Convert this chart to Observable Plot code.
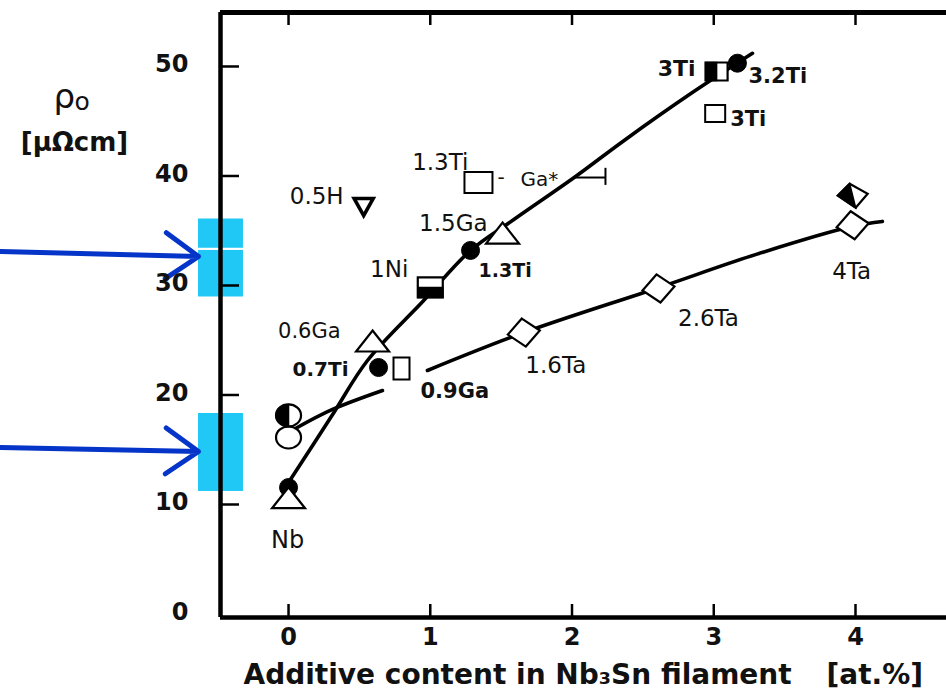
<!DOCTYPE html>
<html><head><meta charset="utf-8">
<script src="https://cdn.jsdelivr.net/npm/d3@7"></script>
<script src="https://cdn.jsdelivr.net/npm/@observablehq/plot@0.6"></script>
<style>
html,body{margin:0;padding:0;background:#fff;}
#chart svg{display:block;}
</style></head><body><div id="chart"></div>
<script>
// ---------------- data ----------------
const xTicks = [0, 1, 2, 3, 4];
const yTicks = [0, 10, 20, 30, 40, 50];

// upper curve (Ti / Ga / Ni additions)
const upperCurve = [
  {x: 0.00, y: 12.0}, {x: 0.31, y: 18.2}, {x: 0.557, y: 23.15}, {x: 0.952, y: 28.6},
  {x: 1.284, y: 33.2}, {x: 1.587, y: 36.0}, {x: 2.025, y: 39.95}, {x: 2.363, y: 43.2},
  {x: 2.836, y: 47.5}, {x: 3.273, y: 51.2}
];
// lower curve (Ta additions), drawn in two pieces
const lowerCurve = [
  {seg: "a", x: 0.049, y: 16.94}, {seg: "a", x: 0.31, y: 18.68}, {seg: "a", x: 0.663, y: 20.41},
  {seg: "b", x: 0.98, y: 22.24}, {seg: "b", x: 1.66, y: 25.7}, {seg: "b", x: 2.61, y: 29.8},
  {seg: "b", x: 3.3, y: 32.84}, {seg: "b", x: 3.98, y: 35.4}, {seg: "b", x: 4.19, y: 35.85}
];

const markerPoints = [
  {id: "NbTi",  x: 0.00,  y: 11.55, marker: "filledCircle"},
  {id: "NbGa",  x: 0.00,  y: 10.3,  marker: "triangle"},
  {id: "NbTa2", x: 0.00,  y: 18.13, marker: "halfCircle"},
  {id: "NbTa",  x: 0.00,  y: 16.12, marker: "openCircle"},
  {id: "0.6Ga", x: 0.593, y: 24.61, marker: "triangle"},
  {id: "0.7Ti", x: 0.635, y: 22.51, marker: "filledCircle"},
  {id: "0.9Ga", x: 0.797, y: 22.42, marker: "squareTall"},
  {id: "1Ni",   x: 1.00,  y: 29.82, marker: "halfSquareBottom"},
  {id: "1.3Ti", x: 1.284, y: 33.2,  marker: "filledCircle"},
  {id: "1.5Ga", x: 1.51,  y: 34.47, marker: "triangle"},
  {id: "1.3TiGa", x: 1.34, y: 39.4, marker: "squareWide"},
  {id: "0.5H",  x: 0.53,  y: 37.42, marker: "invTriangle"},
  {id: "3Ti",   x: 3.02,  y: 49.54, marker: "halfSquareLeft"},
  {id: "3.2Ti", x: 3.167, y: 50.3,  marker: "filledCircle"},
  {id: "3TiB",  x: 3.01,  y: 45.7,  marker: "square"},
  {id: "1.6Ta", x: 1.66,  y: 25.7,  marker: "diamond"},
  {id: "2.6Ta", x: 2.61,  y: 29.73, marker: "diamond"},
  {id: "4Ta",   x: 3.98,  y: 35.5,  marker: "diamond"},
  {id: "4TaB",  x: 3.98,  y: 38.2,  marker: "halfDiamond"}
];

// Ga* range bar
const gaRange = [{x1: 2.025, x2: 2.236, y: 39.86, lo: 39.14, hi: 40.7}];

const pointLabels = [
  {text: "Nb", at: "NbGa"},
  {text: "0.6Ga", at: "0.6Ga"},
  {text: "0.7Ti", at: "0.7Ti"},
  {text: "0.9Ga", at: "0.9Ga"},
  {text: "1Ni", at: "1Ni"},
  {text: "1.3Ti", at: "1.3Ti"},
  {text: "1.5Ga", at: "1.5Ga"},
  {text: "1.3Ti", at: "1.3TiGa"},
  {text: "-", at: "1.3TiGa"},
  {text: "Ga*", at: "1.3TiGa"},
  {text: "0.5H", at: "0.5H"},
  {text: "3Ti", at: "3Ti"},
  {text: "3.2Ti", at: "3.2Ti"},
  {text: "3Ti", at: "3TiB"},
  {text: "1.6Ta", at: "1.6Ta"},
  {text: "2.6Ta", at: "2.6Ta"},
  {text: "4Ta", at: "4Ta"}
];

const xTitle = "Additive content in Nb₃Sn filament";
const xUnit = "[at.%]";
const yTitle = "ρ";
const yTitleSub = "o";
const yUnit = "[μΩcm]";

// overlay call-outs (blue arrows into cyan boxes)
const callouts = [
  {y1: 28.95, y2: 33.2, yFrom: 33.1, yTo: 32.65},
  {y1: 11.19, y2: 18.31, yFrom: 15.2, yTo: 14.84}
];
const calloutBoxTop = [{y1: 33.4, y2: 36.07}];
const calloutX = {from: -2.03, boxLeft: -0.635, boxRight: -0.318};

// ---------------- layout ----------------
const W = 946, H = 699, mL = 220, mR = 0, mT = 12, mB = 82;
const xDomain = [-0.48, 4.642];
const yDomain = [-0.32, 54.93];
const pxX = (W - mL - mR) / (xDomain[1] - xDomain[0]);
const pxY = (H - mT - mB) / (yDomain[1] - yDomain[0]);
const FONT = "DejaVu Sans";
const INK = "#111";

// ---------------- symbols ----------------
const K = 0.5523;
const poly = pts => ({draw(c) { c.moveTo(pts[0][0], pts[0][1]); for (let i = 1; i < pts.length; i++) c.lineTo(pts[i][0], pts[i][1]); c.closePath(); }});
const circ = r => ({draw(c) { c.moveTo(r, 0); c.arc(0, 0, r, 0, 2 * Math.PI); c.closePath(); }});
const ell = (rx, ry) => ({draw(c) {
  c.moveTo(rx, 0);
  c.bezierCurveTo(rx, K * ry, K * rx, ry, 0, ry);
  c.bezierCurveTo(-K * rx, ry, -rx, K * ry, -rx, 0);
  c.bezierCurveTo(-rx, -K * ry, -K * rx, -ry, 0, -ry);
  c.bezierCurveTo(K * rx, -ry, rx, -K * ry, rx, 0);
  c.closePath();
}});
const ellLeft = (rx, ry) => ({draw(c) {
  c.moveTo(0, -ry);
  c.bezierCurveTo(-K * rx, -ry, -rx, -K * ry, -rx, 0);
  c.bezierCurveTo(-rx, K * ry, -K * rx, ry, 0, ry);
  c.closePath();
}});
const rect = (w, h) => poly([[-w / 2, -h / 2], [w / 2, -h / 2], [w / 2, h / 2], [-w / 2, h / 2]]);
const tri = (w, h) => poly([[0, -2 * h / 3], [w / 2, h / 3], [-w / 2, h / 3]]);
const invTri = (w, h) => poly([[0, 2 * h / 3], [w / 2, -h / 3], [-w / 2, -h / 3]]);
const dia = [[-2, -14], [16, -2], [2, 14], [-16, 2]];
const diaB = [[-3, -12], [15, -2], [3, 12], [-15, 0]];

const markerStyle = {
  filledCircle: [{sym: circ(9), fill: "#000", sw: 1}],
  openCircle: [{sym: ell(12.5, 11), fill: "#fff", sw: 2.2}],
  halfCircle: [{sym: ell(12.5, 11), fill: "#fff", sw: 2.2}, {sym: ellLeft(12.5, 11), fill: "#000", sw: 1.5}],
  triangle: [{sym: tri(33, 21), fill: "#fff", sw: 2.2}],
  invTriangle: [{sym: invTri(19, 17), fill: "#fff", sw: 3.6}],
  squareTall: [{sym: rect(16, 22), fill: "#fff", sw: 2}],
  squareWide: [{sym: rect(28, 21), fill: "#fff", sw: 2}],
  square: [{sym: rect(20, 17), fill: "#fff", sw: 2}],
  halfSquareBottom: [{sym: rect(25, 20), fill: "#fff", sw: 2.2}, {sym: poly([[-12.5, 0], [12.5, 0], [12.5, 10], [-12.5, 10]]), fill: "#000", sw: 1.5}],
  halfSquareLeft: [{sym: rect(22, 18), fill: "#fff", sw: 2.2}, {sym: poly([[-11, -9], [0, -9], [0, 9], [-11, 9]]), fill: "#000", sw: 1.5}],
  diamond: [{sym: poly(dia), fill: "#fff", sw: 2.2}],
  halfDiamond: [{sym: poly(diaB), fill: "#fff", sw: 2.2}, {sym: poly([diaB[0], diaB[2], diaB[3]]), fill: "#000", sw: 1.5}]
};

// label placement (pixel offsets from the point they belong to)
const labelLayout = {
  "Nb@NbGa":      {dx: -1,  dy: 39,  anchor: "middle", size: 24, bold: false},
  "0.6Ga@0.6Ga":  {dx: -32, dy: -13, anchor: "end",    size: 21, bold: false},
  "0.7Ti@0.7Ti":  {dx: -30, dy: 2,   anchor: "end",    size: 20, bold: true},
  "0.9Ga@0.9Ga":  {dx: 19,  dy: 23,  anchor: "start",  size: 21, bold: true},
  "1Ni@1Ni":      {dx: -22, dy: -18, anchor: "end",    size: 23, bold: false},
  "1.3Ti@1.3Ti":  {dx: 8,   dy: 20,  anchor: "start",  size: 19, bold: true},
  "1.5Ga@1.5Ga":  {dx: -15, dy: -13, anchor: "end",    size: 23, bold: false},
  "1.3Ti@1.3TiGa":{dx: -10, dy: -20, anchor: "end",    size: 23, bold: false},
  "-@1.3TiGa":    {dx: 19,  dy: -5,  anchor: "start",  size: 20, bold: false},
  "Ga*@1.3TiGa":  {dx: 42,  dy: -3,  anchor: "start",  size: 20, bold: false},
  "0.5H@0.5H":    {dx: -20, dy: -8,  anchor: "end",    size: 23, bold: false},
  "3Ti@3Ti":      {dx: -21, dy: -3,  anchor: "end",    size: 22, bold: true},
  "3.2Ti@3.2Ti":  {dx: 11,  dy: 13,  anchor: "start",  size: 21, bold: true},
  "3Ti@3TiB":     {dx: 15,  dy: 6,   anchor: "start",  size: 21, bold: true},
  "1.6Ta@1.6Ta":  {dx: 32,  dy: 33,  anchor: "middle", size: 23, bold: false},
  "2.6Ta@2.6Ta":  {dx: 50,  dy: 30,  anchor: "middle", size: 23, bold: false},
  "4Ta@4Ta":      {dx: -1,  dy: 46,  anchor: "middle", size: 23, bold: false}
};

// ---------------- marks ----------------
const marks = [];

// call-out overlays
marks.push(Plot.rect(callouts, {x1: calloutX.boxLeft, x2: calloutX.boxRight, y1: "y1", y2: "y2", fill: "#20c8f5"}));
marks.push(Plot.rect(calloutBoxTop, {x1: calloutX.boxLeft, x2: calloutX.boxRight, y1: "y1", y2: "y2", fill: "#20c8f5"}));
marks.push(Plot.arrow(callouts, {x1: calloutX.from, y1: "yFrom", x2: calloutX.boxLeft, y2: "yTo",
  stroke: "#0534c8", strokeWidth: 5, headLength: 12, headAngle: 70, insetEnd: 0}));

// frame
marks.push(Plot.ruleX([xDomain[0]], {stroke: "#000", strokeWidth: 4.5}));
marks.push(Plot.ruleY([yDomain[0]], {stroke: "#000", strokeWidth: 4.5}));
marks.push(Plot.ruleY([yDomain[1]], {stroke: "#000", strokeWidth: 5}));

// inward ticks
marks.push(Plot.ruleX(xTicks, {x: d => d, y1: yDomain[0], y2: yDomain[0] + 13 / pxY, stroke: "#000", strokeWidth: 2.5}));
marks.push(Plot.ruleX(xTicks, {x: d => d, y1: yDomain[1], y2: yDomain[1] - 13 / pxY, stroke: "#000", strokeWidth: 2.5}));
marks.push(Plot.ruleY(yTicks.filter(d => d > 0), {y: d => d, x1: xDomain[0], x2: xDomain[0] + 19 / pxX, stroke: "#000", strokeWidth: 2.5}));

// tick labels
marks.push(Plot.text(xTicks, {x: d => d, y: yDomain[0], dy: 20, text: d => String(d), fontSize: 24, fontWeight: "bold", fontFamily: FONT, fill: INK}));
marks.push(Plot.text(yTicks, {x: xDomain[0], y: d => d, dx: -32, dy: -2, text: d => String(d), textAnchor: "end", fontSize: 24, fontWeight: "bold", fontFamily: FONT, fill: INK}));

// axis titles
marks.push(Plot.text([xTitle], {frameAnchor: "bottom-left", dx: 23, dy: 66, text: d => d, textAnchor: "start", fontSize: 28, fontWeight: "bold", fontFamily: FONT, fill: INK}));
marks.push(Plot.text([xUnit], {frameAnchor: "bottom-left", dx: 606, dy: 66, text: d => d, textAnchor: "start", fontSize: 28, fontWeight: "bold", fontFamily: FONT, fill: INK}));
marks.push(Plot.text([yTitle], {frameAnchor: "top-left", dx: -167, dy: 71, text: d => d, textAnchor: "start", fontSize: 34, fontFamily: FONT, fill: INK}));
marks.push(Plot.text([yTitleSub], {frameAnchor: "top-left", dx: -146, dy: 80, text: d => d, textAnchor: "start", fontSize: 25, fontFamily: FONT, fill: INK}));
marks.push(Plot.text([yUnit], {frameAnchor: "top-left", dx: -146, dy: 120, text: d => d, textAnchor: "middle", fontSize: 26, fontWeight: "bold", fontFamily: FONT, fill: INK}));

// curves
marks.push(Plot.line(upperCurve, {x: "x", y: "y", curve: "catmull-rom", stroke: "#000", strokeWidth: 3.6}));
marks.push(Plot.line(lowerCurve, {x: "x", y: "y", z: "seg", curve: "catmull-rom", stroke: "#000", strokeWidth: 3.6}));
marks.push(Plot.ruleY(gaRange, {x1: "x1", x2: "x2", y: "y", stroke: "#000", strokeWidth: 2}));
marks.push(Plot.ruleX(gaRange, {x: "x2", y1: "lo", y2: "hi", stroke: "#000", strokeWidth: 2}));

// markers
for (const [kind, parts] of Object.entries(markerStyle)) {
  const pts = markerPoints.filter(p => p.marker === kind);
  if (!pts.length) continue;
  for (const part of parts) {
    marks.push(Plot.dot(pts, {x: "x", y: "y", symbol: part.sym, r: 5, fill: part.fill, stroke: "#000", strokeWidth: part.sw}));
  }
}

// point labels
const byId = Object.fromEntries(markerPoints.map(p => [p.id, p]));
for (const lab of pointLabels) {
  const L = labelLayout[`${lab.text}@${lab.at}`];
  const p = byId[lab.at];
  marks.push(Plot.text([lab], {x: () => p.x, y: () => p.y, text: "text", dx: L.dx, dy: L.dy, textAnchor: L.anchor,
    fontSize: L.size, fontWeight: L.bold ? "bold" : "normal", fontFamily: FONT, fill: INK}));
}

const chart = Plot.plot({
  width: W, height: H,
  marginLeft: mL, marginRight: mR, marginTop: mT, marginBottom: mB,
  x: {domain: xDomain, axis: null},
  y: {domain: yDomain, axis: null},
  style: {background: "#fff", fontFamily: FONT, overflow: "visible"},
  marks
});
document.getElementById("chart").appendChild(chart);
</script></body></html>
